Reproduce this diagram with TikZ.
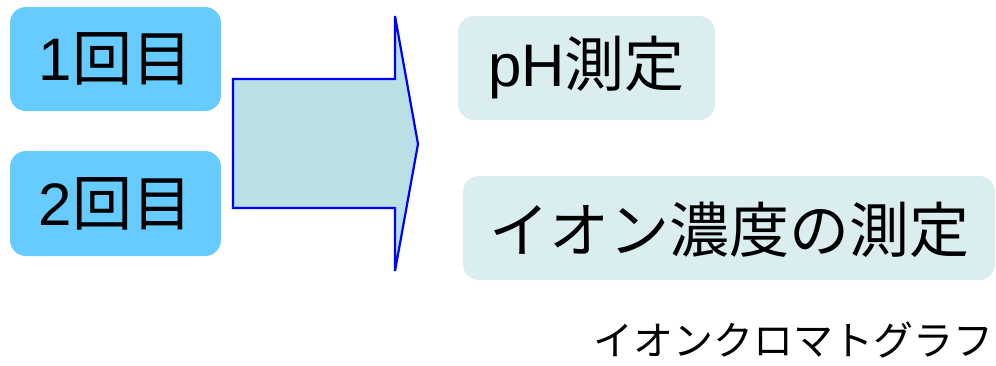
\documentclass[tikz,border=0pt]{standalone}
\usepackage{fontspec}
\setmainfont{Liberation Sans}
\newfontfamily\cjk{Noto Sans CJK JP}
\definecolor{boxblue}{HTML}{66CCFF}
\definecolor{boxpale}{HTML}{DAEDEF}
\definecolor{arrowfill}{HTML}{B9E0E4}
\definecolor{arrowline}{HTML}{0000FF}
\tikzset{
  roundbox/.style={rectangle, rounded corners=16pt, inner sep=0pt, draw=none},
  bigtext/.style={font=\fontsize{60pt}{60pt}\selectfont},
}
\begin{document}
\begin{tikzpicture}[x=1pt,y=-1pt]
\useasboundingbox (0,0) rectangle (996,365);
% left boxes
\node[roundbox, fill=boxblue, minimum width=211pt, minimum height=104pt, bigtext] (b1) at (115.5,59) {1{\cjk 回目}};
\node[roundbox, fill=boxblue, minimum width=211pt, minimum height=105pt, bigtext] (b2) at (115.5,203.5) {2{\cjk 回目}};
% big arrow
\coordinate (a1) at (233,79);
\coordinate (a2) at (395,79);
\coordinate (a3) at (395,16);
\coordinate (tip) at (418,144);
\coordinate (a5) at (395,271);
\coordinate (a6) at (395,208);
\coordinate (a7) at (233,208);
\draw[fill=arrowfill, draw=arrowline, line width=2.2pt, line join=miter]
  (a1) -- (a2) -- (a3) -- (tip) -- (a5) -- (a6) -- (a7) -- cycle;
% right boxes
\node[roundbox, fill=boxpale, minimum width=257pt, minimum height=104pt, bigtext] (ph) at (586.5,68) {pH{\cjk 測定}};
\node[roundbox, fill=boxpale, minimum width=532pt, minimum height=104pt] (ion) at (729,228) {};
\node[bigtext, inner sep=0pt, anchor=west] (iontext) at (489,230) {\cjk イオン濃度の測定};
% caption
\node[anchor=east, inner sep=0pt, font=\fontsize{40pt}{40pt}\selectfont] (label) at (994,340) {\cjk イオンクロマトグラフ};
\end{tikzpicture}
\end{document}
